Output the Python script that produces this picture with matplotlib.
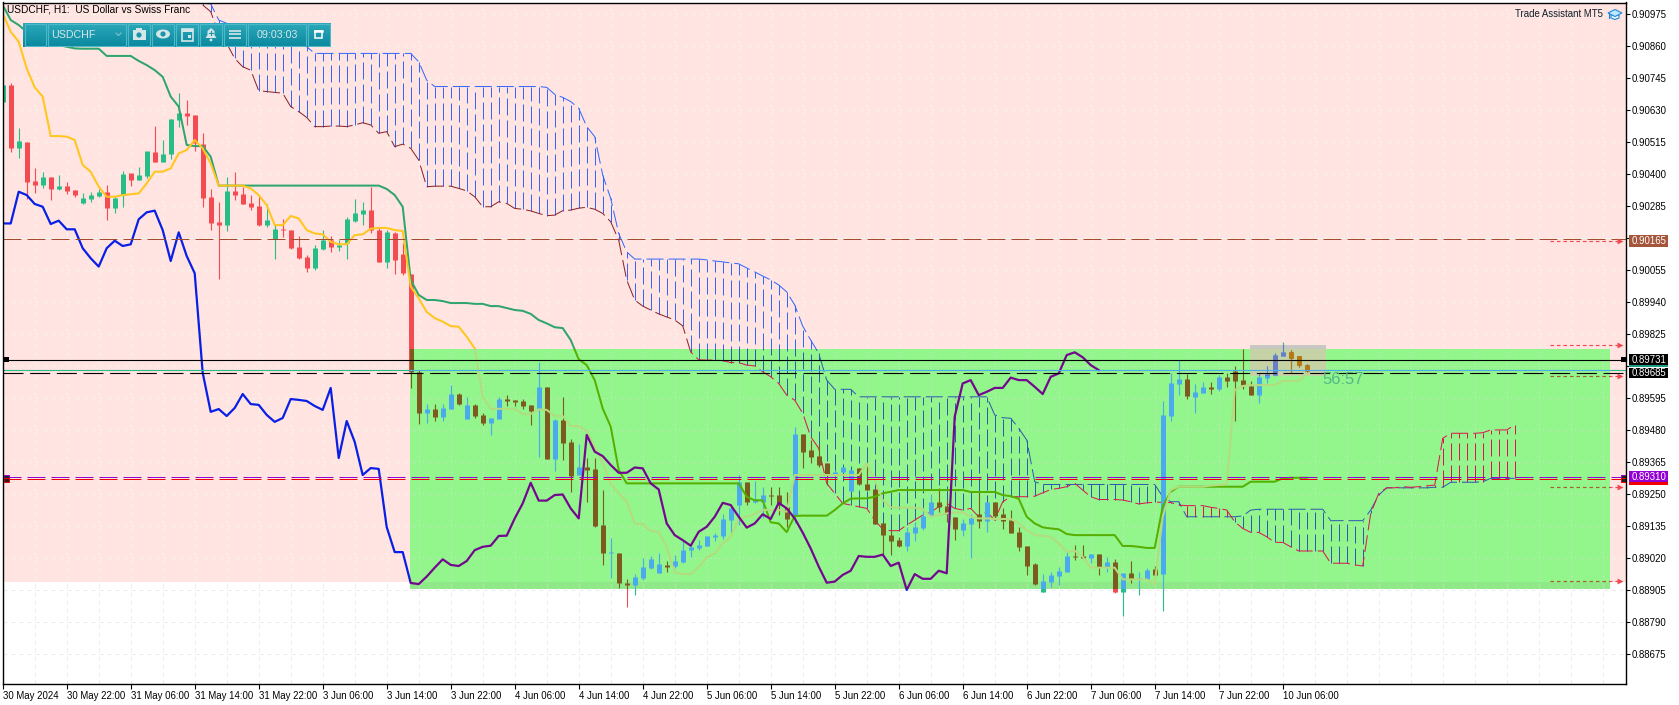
import matplotlib
matplotlib.use('Agg')
import matplotlib.pyplot as plt
import numpy as np
from matplotlib.patches import Rectangle, Polygon, Circle, Ellipse
from matplotlib.path import Path
from matplotlib.transforms import Affine2D

plt.rcParams['font.family'] = ['Liberation Sans', 'DejaVu Sans']

W, H = 1679, 705

# candles, in 1e-5 price units
opens = [90660,90720,90494,90513,90374,90360,90389,90345,90356,90342,
         90294,90310,90321,90335,90277,90324,90401,90378,90392,90479,
         90443,90471,90594,90619,90612,90507,90317,90227,90216,90339,
         90328,90295,90285,90216,90166,90202,90198,90137,90101,90062,
         90130,90162,90137,90152,90231,90256,90270,90198,90083,90188,
         90112,90040,89687,89541,89555,89526,89555,89609,89519,89570,
         89534,89505,89519,89591,89587,89584,89570,89555,89634,89375,
         89516,89437,89318,89347,89339,89138,89038,89038,88929,88923,
         88948,88984,88966,88995,88991,89005,89048,89056,89063,89095,
         89099,89156,89210,89292,89221,89222,89246,89246,89203,89174,
         89465,89408,89386,89361,89321,89329,89260,89343,89286,89268,
         89145,89102,89084,89063,89111,89127,89170,89221,89207,89167,
         89120,89142,89178,89153,89221,89178,89156,89113,89063,88998,
         88897,88933,88955,88969,89027,89027,89020,89034,88987,89005,
         88897,88966,88944,88944,88980,88962,89530,89645,89663,89598,
         89613,89634,89627,89670,89692,89659,89638,89606,89667,89677,
         89746,89760,89746,89713]
highs = [90720,90726,90564,90513,90420,90406,90389,90396,90371,90342,
         90333,90336,90345,90360,90318,90409,90401,90426,90480,90572,
         90522,90597,90691,90666,90612,90546,90346,90299,90389,90407,
         90354,90324,90318,90292,90216,90238,90198,90177,90109,90144,
         90198,90177,90162,90245,90310,90299,90353,90204,90198,90192,
         90150,90040,89695,89573,89573,89573,89641,89613,89598,89573,
         89541,89523,89598,89605,89587,89591,89570,89724,89634,89519,
         89598,89447,89429,89379,89379,89264,89090,89038,88944,88962,
         89020,89027,89038,89009,89030,89081,89074,89084,89099,89110,
         89178,89214,89318,89292,89295,89275,89276,89276,89257,89490,
         89465,89444,89429,89361,89335,89347,89336,89343,89360,89268,
         89145,89120,89095,89131,89149,89203,89250,89271,89228,89167,
         89160,89178,89257,89221,89221,89199,89192,89131,89063,89002,
         88962,88969,88987,89041,89066,89066,89034,89034,89023,89016,
         88966,89009,88969,88984,88991,89584,89685,89731,89681,89645,
         89652,89652,89677,89685,89710,89771,89656,89685,89710,89756,
         89796,89767,89746,89717]
lows = [90660,90480,90458,90310,90333,90350,90306,90342,90329,90318,
        90292,90300,90318,90234,90258,90282,90356,90378,90384,90443,
        90443,90452,90570,90576,90484,90282,90198,90022,90195,90306,
        90292,90270,90213,90210,90094,90172,90130,90095,90049,90055,
        90126,90119,90124,90094,90228,90216,90186,90083,90062,90040,
        90037,89631,89501,89505,89512,89512,89555,89570,89519,89523,
        89498,89462,89519,89566,89566,89555,89498,89383,89375,89332,
        89372,89257,89318,89221,89132,88994,88949,88913,88845,88887,
        88941,88980,88966,88969,88984,89002,89023,89048,89063,89081,
        89088,89113,89138,89210,89217,89162,89210,89174,89132,89144,
        89343,89361,89347,89282,89315,89329,89260,89282,89264,89142,
        89030,89030,89059,89045,89081,89120,89170,89185,89150,89084,
        89100,89020,89127,89113,89156,89124,89110,89045,88959,88923,
        88897,88915,88923,88969,89012,89020,89002,88959,88969,88894,
        88811,88930,88887,88944,88959,88829,89512,89606,89591,89541,
        89613,89609,89620,89634,89512,89627,89606,89577,89649,89674,
        89746,89688,89706,89688]
closes = [90720,90494,90518,90372,90361,90389,90346,90356,90339,90324,
          90313,90324,90335,90277,90313,90400,90378,90396,90480,90443,
          90471,90597,90619,90608,90510,90313,90224,90216,90339,90324,
          90292,90281,90216,90234,90202,90198,90134,90098,90062,90134,
          90162,90137,90144,90238,90259,90270,90198,90083,90191,90091,
          90043,89688,89541,89555,89526,89559,89609,89573,89570,89530,
          89505,89523,89591,89584,89581,89566,89548,89634,89375,89516,
          89433,89314,89347,89336,89135,89038,89041,88929,88923,88951,
          88987,89016,88998,88987,89009,89048,89059,89066,89099,89102,
          89160,89199,89292,89221,89232,89246,89243,89210,89160,89465,
          89401,89383,89354,89321,89329,89347,89336,89286,89264,89142,
          89102,89081,89063,89113,89131,89170,89221,89203,89178,89124,
          89145,89163,89153,89221,89171,89153,89110,89059,88991,88926,
          88937,88959,88973,89027,89023,89020,89034,88987,89005,88897,
          88966,88944,88948,88977,88959,89534,89649,89663,89602,89616,
          89634,89627,89670,89656,89656,89641,89606,89670,89681,89749,
          89760,89739,89713,89692]

# ichimoku lines
kijun = [91007,90953,90935,90911,90899,90881,90869,90863,90857,90851,
         90850,90850,90850,90824,90824,90824,90824,90806,90791,90773,
         90749,90678,90642,90504,90500,90500,90462,90358,90358,90358,
         90358,90358,90358,90358,90358,90358,90358,90358,90358,90358,
         90358,90358,90358,90358,90358,90358,90358,90358,90346,90324,
         90282,90019,89965,89947,89947,89943,89936,89936,89936,89933,
         89933,89925,89925,89918,89911,89908,89897,89875,89863,89849,
         89846,89803,89734,89713,89659,89557,89492,89336,89288,89288,
         89288,89288,89288,89288,89288,89288,89288,89288,89288,89288,
         89288,89288,89288,89240,89227,89227,89148,89144,89113,89171,
         89172,89172,89172,89172,89192,89216,89233,89234,89234,89240,
         89252,89258,89264,89264,89264,89264,89264,89264,89264,89264,
         89264,89257,89257,89257,89257,89246,89242,89233,89168,89144,
         89130,89126,89123,89106,89102,89102,89102,89102,89102,89102,
         89063,89063,89060,89056,89056,89204,89258,89276,89276,89276,
         89276,89276,89276,89276,89276,89276,89294,89294,89294,89294,
         89306,89308,89308,89308]
tenkan = [90977,90911,90875,90779,90711,90678,90536,90536,90534,90522,
          90432,90408,90354,90318,90318,90324,90327,90330,90366,90408,
          90408,90420,90474,90486,90522,90492,90438,90358,90358,90358,
          90358,90348,90324,90288,90216,90216,90249,90240,90198,90186,
          90183,90156,90147,90147,90180,90183,90203,90206,90206,90198,
          90195,89995,89953,89904,89882,89869,89853,89851,89815,89773,
          89599,89556,89556,89556,89556,89537,89537,89554,89552,89530,
          89530,89494,89494,89476,89420,89360,89288,89252,89222,89144,
          89141,89117,89113,89060,88968,88962,88962,88988,89022,89036,
          89072,89096,89160,89168,89178,89192,89192,89192,89186,89318,
          89318,89318,89318,89318,89318,89318,89318,89318,89360,89300,
          89228,89202,89201,89201,89201,89195,89168,89174,89180,89183,
          89184,89168,89162,89162,89160,89160,89160,89144,89120,89102,
          89099,89096,89072,89042,89046,89024,88986,88985,88985,88985,
          88943,88943,88943,88943,88926,89168,89264,89276,89276,89276,
          89276,89280,89282,89285,89624,89638,89641,89641,89641,89641,
          89656,89656,89656,89681]
chikou = [90222,90222,90336,90324,90292,90282,90220,90232,90201,90201,
          90133,90097,90067,90133,90160,90141,90147,90237,90262,90268,
          90198,90087,90190,90105,90043,89685,89545,89555,89530,89559,
          89609,89573,89570,89534,89509,89523,89591,89588,89584,89566,
          89552,89631,89379,89512,89437,89318,89343,89340,89131,89041,
          89041,88930,88926,88953,88985,89015,88995,88991,89009,89048,
          89060,89064,89099,89100,89162,89216,89290,89226,89226,89246,
          89248,89198,89162,89462,89402,89386,89354,89326,89326,89345,
          89342,89288,89266,89144,89102,89084,89064,89114,89132,89168,
          89218,89210,89168,89129,89144,89177,89160,89218,89198,89162,
          89111,89054,88989,88931,88935,88959,88974,89027,89024,89024,
          89032,88991,89003,88905,88962,88945,88945,88974,88965,89528,
          89647,89659,89605,89617,89631,89631,89668,89659,89659,89635,
          89609,89671,89683,89749,89759,89741,89713,89695]

# cloud, starts at bar 25 and runs past the last candle
cloud_start = 25
span_a = [91013,91011,90953,90941,90923,
          90917,90911,90905,90899,90893,90887,90884,90881,90857,90833,
          90833,90833,90833,90833,90833,90833,90833,90833,90833,90833,
          90833,90833,90803,90737,90714,90714,90714,90714,90714,90714,
          90714,90714,90714,90714,90714,90714,90714,90714,90711,90686,90675,
          90660,90636,90570,90534,90396,90312,90186,90120,90094,90094,
          90094,90094,90094,90094,90094,90094,90094,90091,90087,90084,
          90080,90077,90062,90048,90033,90019,90001,89976,89929,89853,
          89803,89755,89659,89626,89626,89626,89599,89599,89599,89599,
          89599,89599,89599,89599,89599,89599,89599,89599,89599,89599,
          89599,89599,89599,89534,89524,89522,89486,89444,89294,89284,89284,
          89284,89284,89284,89284,89284,89284,89284,89284,89284,89284,
          89284,89284,89284,89240,89222,89222,89168,89168,89168,89168,
          89168,89168,89168,89171,89192,89195,89195,89195,89195,89195,
          89195,89195,89195,89195,89154,89154,89154,89154,89154,89192,
          89246,89272,89272,89272,89272,89272,89272,89274,89274,89292,
          89292,89292,89292,89294,89306,89306,89306,89306]
span_b = [91007,90983,90905,90869,90815,
          90785,90773,90699,90696,90693,90690,90642,90624,90603,90570,
          90570,90572,90572,90570,90576,90584,90576,90546,90552,90498,
          90507,90492,90450,90354,90356,90356,90356,90348,90339,90318,
          90282,90282,90300,90294,90276,90273,90267,90258,90250,90252,
          90268,90270,90277,90280,90273,90258,90228,90162,90019,89947,
          89925,89911,89897,89886,89875,89854,89760,89732,89731,89731,
          89729,89722,89722,89713,89710,89689,89671,89647,89605,89587,
          89540,89456,89414,89288,89252,89216,89210,89204,89198,89156,
          89123,89118,89118,89138,89156,89174,89184,89204,89216,89198,
          89192,89198,89168,89186,89156,89222,89240,89240,89240,89242,
          89254,89266,89270,89276,89288,89264,89240,89230,89230,89230,
          89228,89222,89214,89218,89220,89220,89219,89210,89208,89208,
          89208,89202,89198,89192,89150,89126,89112,89112,89096,89076,
          89076,89060,89045,89045,89045,89045,89001,89001,89001,88995,
          88991,89180,89252,89272,89272,89276,89274,89276,89279,89282,
          89450,89468,89468,89468,89468,89470,89480,89480,89480,89498]

# levels
level_resist = 90165
level_black = 89731
level_close = 89694
level_dash = 89685
level_purple = 89312
level_red = 89303
arrow_levels = [90159, 89785, 89675, 89274, 88937]
pink_bottom = 88935
green_top, green_bottom = 89770, 88907
grey_top, grey_bottom = 89785, 89674

ytick_vals = [90975,90860,90745,90630,90515,90400,90285,90170,90055,89940,89825,
              89710,89595,89480,89365,89250,89135,89020,88905,88790,88675]
# ticks sitting behind a price tag show no label
hidden_ticks = [90170, 89710]
xtick_labels = ['30 May 2024','30 May 22:00','31 May 06:00','31 May 14:00','31 May 22:00',
                '3 Jun 06:00','3 Jun 14:00','3 Jun 22:00','4 Jun 06:00','4 Jun 14:00',
                '4 Jun 22:00','5 Jun 06:00','5 Jun 14:00','5 Jun 22:00','6 Jun 06:00',
                '6 Jun 14:00','6 Jun 22:00','7 Jun 06:00','7 Jun 14:00','7 Jun 22:00','10 Jun 06:00']


def price(v):
    return np.asarray(v) / 1e5


fig = plt.figure(figsize=(W / 100, H / 100), dpi=100, facecolor='white')
ax = fig.add_axes([2.5 / W, (H - 684) / H, (1626 - 2.5) / W, (684 - 2.5) / H])
ax.set_xlim(-0.025, 202.91)
ax.set_ylim(price(88567), price(91016))
ax.set_facecolor('white')
pix = Affine2D().scale(1, -1).translate(0, H)

# zones
pink_rect = ax.add_patch(Rectangle((-1, price(pink_bottom)), 205, price(91100 - pink_bottom),
                                   fc='#ffe4e1', ec='none', zorder=1))
green_rect = ax.add_patch(Rectangle((50.9, price(green_bottom)), 150, price(green_top - green_bottom),
                                    fc='#92f68c', ec='none', zorder=1.2))
ax.add_patch(Rectangle((50.9, price(green_bottom)), 150, price(pink_bottom - green_bottom),
                       fc='#8fe988', ec='none', zorder=1.3))
grey_rect = ax.add_patch(Rectangle((155.9, price(grey_bottom)), 9.5, price(grey_top - grey_bottom),
                                   fc='#c8c8c2', ec='none', zorder=2.5))
grey_over = ax.add_patch(Rectangle((155.9, price(grey_bottom)), 9.5, price(grey_top - grey_bottom),
                                   fc='#c4d2a6', ec='none', zorder=2.6))
grey_over.set_clip_path(green_rect)

# everything except the green zone, so the base colours leave no fringe inside it
gx0, gx1 = 50.9, 200.9
gy0, gy1 = price(green_bottom), price(green_top)
outside_path = Path([(-5, 0.8), (210, 0.8), (210, 1.0), (-5, 1.0), (-5, 0.8),
                     (gx0, gy0), (gx0, gy1), (gx1, gy1), (gx1, gy0), (gx0, gy0)],
                    [Path.MOVETO, Path.LINETO, Path.LINETO, Path.LINETO, Path.CLOSEPOLY,
                     Path.MOVETO, Path.LINETO, Path.LINETO, Path.LINETO, Path.CLOSEPOLY])


def two_tone(draw, color, alt):
    draw(color).set_clip_path(outside_path, ax.transData)
    draw(alt).set_clip_path(green_rect)


# grid
grid_x = np.arange(4, 203, 4)
dots = (0, (4, 4))
for col, clip in [('#ececec', None), ('#f6f5e6', pink_rect), ('#a6ea9c', green_rect)]:
    g1 = ax.hlines(price(ytick_vals), -0.025, 202.91, colors=col, lw=0.72, linestyles=dots, zorder=2)
    g2 = ax.vlines(grid_x, price(88567), price(91016), colors=col, lw=0.72, linestyles=dots, zorder=2)
    if clip is not None:
        g1.set_clip_path(clip)
        g2.set_clip_path(clip)

# cloud
cloud_x = np.arange(cloud_start, cloud_start + len(span_a))
a = price(span_a)
b = price(span_b)
hatch = (0, (17, 5))
is_up = a >= b
two_tone(lambda c: ax.vlines(cloud_x[is_up], b[is_up], a[is_up], colors=c, lw=0.72, linestyles=hatch, zorder=3),
         '#3366ff', '#2f5ab0')
ax.vlines(cloud_x[~is_up], a[~is_up], b[~is_up], colors='#dc1450', lw=0.72, linestyles=hatch, zorder=3)
two_tone(lambda c: ax.plot(cloud_x, a, color=c, lw=0.72, ls=hatch, zorder=3.2)[0], '#3366ff', '#2f5ab0')
two_tone(lambda c: ax.plot(cloud_x, b, color=c, lw=0.72, ls=hatch, zorder=3.2)[0], '#8b2222', '#dc1450')

# candles
o, hi, lo, c = price(opens), price(highs), price(lows), price(closes)
bars = np.arange(len(o))
up = c >= o


def draw_candles(col_up, col_down, clip):
    for mask, col in [(up, col_up), (~up, col_down)]:
        w = ax.vlines(bars[mask], lo[mask], hi[mask], colors=col, lw=0.8, zorder=4, capstyle='butt')
        bd = ax.vlines(bars[mask], np.minimum(o, c)[mask], np.maximum(o, c)[mask] + 0.000012,
                       colors=col, lw=3.6, zorder=4.1, capstyle='butt')
        if clip is green_rect or clip is grey_rect:
            w.set_clip_path(clip)
            bd.set_clip_path(clip)
        else:
            w.set_clip_path(clip, ax.transData)
            bd.set_clip_path(clip, ax.transData)


draw_candles('#26bd87', '#f44b52', outside_path)
draw_candles('#4ba9ee', '#7d5a20', green_rect)
draw_candles('#6a7ec6', '#b87810', grey_rect)

# ichimoku lines
two_tone(lambda col: ax.plot(bars, price(kijun), color=col, lw=1.45, zorder=5, solid_joinstyle='round')[0],
         '#2fa56e', '#55b000')
two_tone(lambda col: ax.plot(bars, price(tenkan), color=col, lw=1.45, zorder=5.1, solid_joinstyle='round')[0],
         '#ffc61e', '#b4dc7e')
two_tone(lambda col: ax.plot(np.arange(len(chikou)), price(chikou), color=col, lw=1.6, zorder=5.2)[0],
         '#0a1fe6', '#73088f')

# horizontal levels
dash_long = (0, (18, 6))
ax.axhline(price(level_resist), color='#a3492f', lw=0.72, ls=dash_long, zorder=6)
ax.axhline(price(level_black), color='black', lw=0.8, zorder=6)
two_tone(lambda col: ax.axhline(price(level_close), color=col, lw=0.8, zorder=6), '#26bd87', '#4ba9ee')
ax.axhline(price(level_dash), color='black', lw=0.8, ls=dash_long, zorder=6.1)
ax.axhline(price(level_purple), color='#9400d3', lw=0.72, ls=dash_long, zorder=6)
ax.axhline(price(level_red), color='#f00000', lw=0.72, ls=dash_long, zorder=6)

# small trade arrows on the right
two_tone(lambda col: ax.hlines(price(arrow_levels), 193.4, 202.2, colors=col, lw=0.85,
                               linestyles=(0, (3, 2.5)), zorder=6.2), '#f0484e', '#a5602a')
ax.scatter([202.2] * len(arrow_levels), price(arrow_levels), marker='>', s=18, c='#f0484e', lw=0, zorder=6.3)

# axes
for s in ax.spines.values():
    s.set_linewidth(1.0)
    s.set_color('black')
    s.set_zorder(9)
ax.yaxis.tick_right()
ax.set_yticks(price(ytick_vals))
ax.set_yticklabels(['' if v in hidden_ticks else '%.5f' % (v / 1e5) for v in ytick_vals])
ax.set_xticks(np.arange(0, 8 * len(xtick_labels), 8))
ax.set_xticklabels(xtick_labels, ha='left')
ax.tick_params(axis='y', length=3, width=0.8, labelsize=6.9, pad=1)
ax.tick_params(axis='x', length=3.6, width=0.8, labelsize=6.9, pad=1.2)

# price tags right of the axis
tags = [(235, 247, '#a5553a', '0.90165'), (354, 365, 'black', '0.89731'), (365, 367, '#1f9c86', ''),
        (367.5, 378, 'black', '0.89685'), (471, 482, '#9400d3', '0.89310'), (482, 485, '#f00000', '')]
for y0, y1, col, txt in tags:
    ax.add_patch(Rectangle((1629, y0), 39, y1 - y0, fc=col, ec='none', transform=pix, clip_on=False, zorder=10))
    if txt:
        ax.text(1631.5, (y0 + y1) / 2 + 0.3, txt, color='white', fontsize=6.9, va='center', ha='left',
                transform=pix, zorder=11)

# line anchors on both edges
for x0 in (3.5, 1621):
    ax.add_patch(Rectangle((x0, 357), 5, 5, fc='black', ec='none', transform=pix, zorder=8))
    ax.add_patch(Rectangle((x0, 474.5), 5, 3.5, fc='#222222', ec='#9400d3', lw=0.7, transform=pix, zorder=8))
    ax.add_patch(Rectangle((x0, 478), 5, 3.5, fc='#222222', ec='#f00000', lw=0.7, transform=pix, zorder=8))

ax.text(7, 10, 'USDCHF, H1:  US Dollar vs Swiss Franc', fontsize=7.3, color='black', va='center', ha='left',
        transform=pix, zorder=8)
ax.text(1603, 14, 'Trade Assistant MT5', fontsize=6.9, color='#10202a', va='center', ha='right',
        transform=pix, zorder=8)
ax.add_patch(Polygon([(1608, 13), (1615, 9.5), (1622, 13), (1615, 16.5)], fc='#bfe8ff', ec='#1e88d8', lw=0.8,
                     transform=pix, zorder=8))
ax.add_patch(Polygon([(1611, 15), (1611, 18), (1615, 19.5), (1619, 18), (1619, 15)], fc='#e8f6ff', ec='#1e88d8',
                     lw=0.8, transform=pix, zorder=7.9))
ax.plot([1609, 1609], [13, 18], color='#1e88d8', lw=0.8, transform=pix, zorder=8)
ax.text(1322, 379, '56:57', fontsize=12, color='#56b889', va='center', ha='left', transform=pix, zorder=8)

# toolbar on top of the chart
tb = fig.add_axes([23 / W, (H - 47) / H, 308 / W, 24 / H], zorder=20)
tb.axis('off')
grad = np.linspace(0, 1, 24)[:, None, None] * (np.array([10, 136, 158]) - np.array([44, 168, 186])) + np.array([44, 168, 186])
tb.imshow(grad / 255, extent=(23, 331, 47, 23), aspect='auto', interpolation='bilinear')
tb.set_xlim(23, 331)
tb.set_ylim(47, 23)
for x0, x1 in [(25, 46), (48, 126), (128, 150), (152, 174), (176, 198), (200, 222), (224, 246), (248, 306), (308, 330)]:
    tb.add_patch(Rectangle((x0, 24), x1 - x0, 22, fc='none', ec='#4db9c8', lw=0.8))
icon = '#d5e6e8'
tb.text(51, 34.7, 'USDCHF', color=icon, fontsize=7.7, va='center', ha='left')
tb.text(277, 34.7, '09:03:03', color=icon, fontsize=7.7, va='center', ha='center')
tb.plot([116, 118.5, 121], [33, 35.5, 33], color='#7fc4ce', lw=0.8)
# camera
tb.add_patch(Rectangle((132.5, 30), 13, 10, fc=icon, ec='none'))
tb.add_patch(Rectangle((136, 28), 6, 2, fc=icon, ec='none'))
tb.add_patch(Circle((139, 35), 2.6, fc='#1a94a8', ec='none'))
# eye
tb.add_patch(Ellipse((163, 34), 14, 9, fc=icon, ec='none'))
tb.add_patch(Circle((163, 34), 2.6, fc='#1a94a8', ec='none'))
# calendar
tb.add_patch(Rectangle((181.5, 28.5), 11, 12, fc='none', ec=icon, lw=1.2))
tb.add_patch(Rectangle((181.5, 28.5), 11, 3, fc=icon, ec='none'))
tb.add_patch(Rectangle((187.5, 35), 3, 3, fc=icon, ec='none'))
# bell
tb.add_patch(Polygon([(205.5, 38), (207.5, 35), (207.5, 31), (211, 28), (214.5, 31), (214.5, 35), (216.5, 38)],
                     fc=icon, ec='none'))
tb.add_patch(Circle((211, 40), 1.4, fc=icon, ec='none'))
tb.plot([209, 213], [33, 33], color='#1a94a8', lw=0.8)
tb.plot([211, 211], [31, 35], color='#1a94a8', lw=0.8)
# menu
tb.hlines([30.5, 34, 37.5], 229, 241, colors=icon, lw=1.2)
# maximize
tb.add_patch(Rectangle((314.5, 31), 7, 7, fc='none', ec='white', lw=1.1))
tb.plot([314.5, 321.5], [31, 31], color='white', lw=1.8)

fig.savefig('out.png', dpi=100)
